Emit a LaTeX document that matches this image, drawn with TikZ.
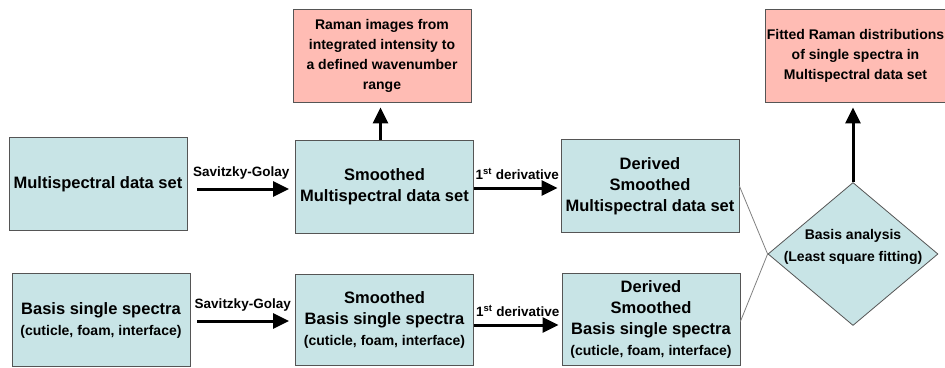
\documentclass[tikz,border=0pt]{standalone}
\usepackage{fontspec}
\setmainfont{Liberation Sans}
\usepackage{tikz}
\definecolor{boxblue}{RGB}{200, 228, 230}
\definecolor{boxpink}{RGB}{255, 188, 180}
\definecolor{edge}{RGB}{85, 85, 85}
\usetikzlibrary{positioning}
\usetikzlibrary{shapes.geometric}
\usetikzlibrary{arrows.meta}
\newcommand{\subline}[1]{{\fontsize{14}{20}\selectfont #1}}

\begin{document}
\begin{tikzpicture}[
stage/.style={rectangle, fill=boxblue, draw=edge, line width=0.8pt, minimum width=178pt, minimum height=93pt, inner sep=1pt, align=center, font=\bfseries\fontsize{16.5}{21}\selectfont},
result/.style={rectangle, fill=boxpink, draw=edge, line width=0.8pt, minimum width=178pt, minimum height=93pt, inner sep=1pt, align=center, font=\bfseries\fontsize{14}{20}\selectfont},
decision/.style={diamond, fill=boxblue, draw=edge, line width=0.8pt, minimum width=170pt, minimum height=143pt, inner sep=0pt},
tag/.style={inner sep=1pt, font=\bfseries\fontsize{13.5}{16}\selectfont},
flow/.style={line width=3pt, -{Triangle[length=16pt, width=15pt]}},
link/.style={draw=gray, line width=0.8pt}]
\useasboundingbox (0pt, 0pt) rectangle (945pt, -367pt);
\node (ms) [stage] at (98.0pt, -184.0pt) {Multispectral data set};
\node (bs) [stage] at (101.0pt, -320.0pt) {Basis single spectra\\\subline{(cuticle, foam, interface)}};
\node (sms) [stage] at (384.5pt, -186.5pt) {Smoothed\\Multispectral data set};
\node (sbs) [stage, minimum height=91pt] at (384.5pt, -319.5pt) {Smoothed\\Basis single spectra\\\subline{(cuticle, foam, interface)}};
\node (dms) [stage] at (650.0pt, -186.0pt) {Derived\\Smoothed\\Multispectral data set};
\node (dbs) [stage, minimum height=92pt] at (651.0pt, -319.5pt) {Derived\\Smoothed\\Basis single spectra\\\subline{(cuticle, foam, interface)}};
\node (raman) [result] at (382.0pt, -55.5pt) {Raman images from\\integrated intensity to\\a defined wavenumber\\range};
\node (fitted) [result] at (855.5pt, -55.5pt) {Fitted Raman distributions\\of single spectra in\\Multispectral data set};
\node (ba) [decision] at (853.0pt, -254.0pt) {};
\node (batext) [tag, font=\bfseries\fontsize{14}{22}\selectfont, align=center] at (853.0pt, -247.0pt) {Basis analysis\\(Least square fitting)};
% smoothing
\draw [flow, shorten <=10pt, shorten >=6pt] ([yshift=-5pt]ms.east) -- ([yshift=-5pt]ms.east -| sms.west) node (sg1) [tag, midway, above=7pt] {Savitzky-Golay};
\draw [flow, shorten <=7pt, shorten >=6pt] ([yshift=-1pt]bs.east) -- ([yshift=-1pt]bs.east -| sbs.west) node (sg2) [tag, midway, above=7pt] {Savitzky-Golay};
% derivative
\draw [flow, shorten >=3pt] ([yshift=-1.5pt]sms.east) -- ([yshift=-1.5pt]sms.east -| dms.west) node (dv1) [tag, midway, above=6pt] {1\textsuperscript{st} derivative};
\draw [flow, shorten >=3pt] ([yshift=-5.5pt]sbs.east) -- ([yshift=-5.5pt]sbs.east -| dbs.west) node (dv2) [tag, midway, above=6pt] {1\textsuperscript{st} derivative};
% outputs
\draw [flow, shorten >=5pt] ([xshift=-4pt]sms.north) -- ([xshift=-4pt]sms.north |- raman.south);
\draw [flow, shorten >=5pt] (ba.north) -- (ba.north |- fitted.south);
\draw [link] (dms.east) -- (ba.west);
\draw [link] ([yshift=-2pt]dbs.east) -- (ba.west);
\end{tikzpicture}
\end{document}
